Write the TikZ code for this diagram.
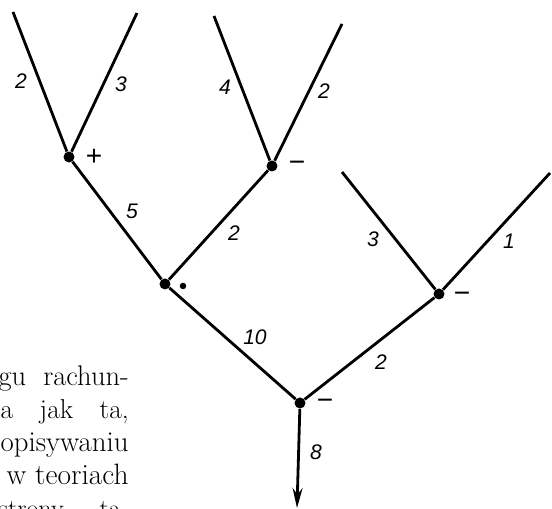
\documentclass[tikz,border=0pt]{standalone}
\usepackage{fontspec}
\setsansfont{Liberation Sans}
\usetikzlibrary{arrows.meta}
\tikzset{
  trjoin/.style={circle,fill=black,inner sep=0pt,minimum size=2.2mm},
  trline/.style={line width=1.6pt,black},
  trnum/.style={font=\sffamily\itshape\fontsize{12}{12}\selectfont,inner sep=0pt},
  trsign/.style={font=\sffamily\fontsize{16}{16}\selectfont,inner sep=0pt},
  trtext/.style={font=\fontsize{15}{18}\selectfont,anchor=base east,inner sep=0pt}
}
\begin{document}
\begin{tikzpicture}[x=0.02cm,y=-0.02cm]
  \useasboundingbox (0,0) rectangle (552,509);
  \clip (0,0) rectangle (552,509);
  % junctions of the tree
  \node[trjoin] (a) at (69,157) {};
  \node[trjoin] (b) at (272,166) {};
  \node[trjoin] (c) at (165,284) {};
  \node[trjoin] (d) at (439,294) {};
  \node[trjoin] (e) at (300,403) {};
  % free ends
  \coordinate (a1) at (13,12);
  \coordinate (a2) at (137,13);
  \coordinate (b1) at (214,16);
  \coordinate (b2) at (342,24);
  \coordinate (d1) at (342,172);
  \coordinate (d2) at (550,173);
  \coordinate (out) at (297,508);
  % branches
  \draw[trline] (a1) -- (a);
  \draw[trline] (a2) -- (a);
  \draw[trline] (b1) -- (b);
  \draw[trline] (b2) -- (b);
  \draw[trline] (d1) -- (d);
  \draw[trline] (d2) -- (d);
  \draw[trline] (a) -- (c);
  \draw[trline] (b) -- (c);
  \draw[trline] (c) -- (e);
  \draw[trline] (d) -- (e);
  \draw[trline,-{Stealth[length=4mm,width=2mm]}] (e) -- (out);
  % weights
  \node[trnum] (na1) at (21,81) {2};
  \node[trnum] (na2) at (121,84) {3};
  \node[trnum] (nb1) at (225,87) {4};
  \node[trnum] (nb2) at (324,91) {2};
  \node[trnum] (nac) at (132,211) {5};
  \node[trnum] (nbc) at (234,233) {2};
  \node[trnum] (nd1) at (373,239) {3};
  \node[trnum] (nd2) at (509,241) {1};
  \node[trnum] (nce) at (255,337) {10};
  \node[trnum] (nde) at (381,362) {2};
  \node[trnum] (nout) at (316,452) {8};
  % signs
  \node[trsign] (sa) at (94,157) {+};
  \node[trsign] (sb) at (297,166) {−};
  \node[circle,fill=black,inner sep=0pt,minimum size=1.3mm] (sc) at (183,286) {};
  \node[trsign] (sd) at (462,297) {−};
  \node[trsign] (se) at (325,404) {−};
  % running text
  \node[trtext] (t1) at (129,386) {\resizebox{2.6cm}{!}{gu\hspace{0.6em}rachun-}};
  \node[trtext] (t2) at (129,419) {\resizebox{2.56cm}{!}{a\hspace{0.97em}jak\hspace{0.97em}ta,}};
  \node[trtext] (t3) at (129,452) {\resizebox{2.56cm}{!}{opisywaniu}};
  \node[trtext] (t4) at (129,485) {\resizebox{2.44cm}{!}{w teoriach}};
  \node[trtext] (t5) at (129,518) {\resizebox{2.6cm}{!}{strony,\hspace{1.2em}ta-}};
\end{tikzpicture}
\end{document}
